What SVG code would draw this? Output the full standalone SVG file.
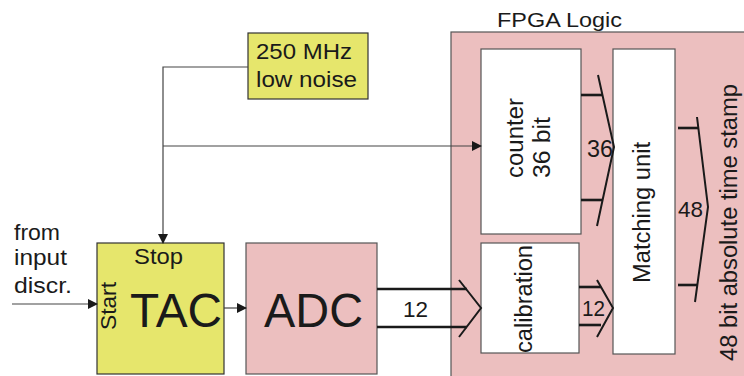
<svg xmlns="http://www.w3.org/2000/svg" width="744" height="376" viewBox="0 0 744 376">
<defs>
<marker id="ah" markerWidth="10" markerHeight="10" refX="9" refY="5" orient="auto" markerUnits="userSpaceOnUse">
<path d="M0,0 L10,5 L0,10 Z" fill="#1a1a1a"/>
</marker>
<style>
text{font-family:"Liberation Sans",Arial,sans-serif;fill:#1a1a1a}
.pink{fill:#ecbfbf;stroke:#555;stroke-width:1.2}
.yel{fill:#e6e66c;stroke:#333;stroke-width:1.2}
.wht{fill:#fff;stroke:#555;stroke-width:1.2}
.ln{stroke:#444;stroke-width:1.2;fill:none}
.bus{stroke:#1a1a1a;stroke-width:2.6;fill:none}
.bc{stroke:#1a1a1a;stroke-width:2;fill:none}
.f22{font-size:22px}
.f23{font-size:23px}
.mid{text-anchor:middle}
</style>
</defs>
<rect width="744" height="376" fill="#fff"/>

<g id="fpga">
<rect class="pink" x="451" y="32" width="300" height="350"/>
<text x="497" y="27" font-size="20" textLength="125" lengthAdjust="spacingAndGlyphs">FPGA Logic</text>
</g>

<g id="clock">
<rect class="yel" x="248" y="33" width="120" height="66"/>
<text class="f22" x="256" y="59" textLength="96" lengthAdjust="spacingAndGlyphs">250 MHz</text>
<text class="f22" x="256" y="87" textLength="101" lengthAdjust="spacingAndGlyphs">low noise</text>
</g>

<g id="input-label">
<text class="f22" x="14" y="240" textLength="46" lengthAdjust="spacingAndGlyphs">from</text>
<text class="f22" x="14" y="265" textLength="53" lengthAdjust="spacingAndGlyphs">input</text>
<text class="f22" x="14" y="293" textLength="58" lengthAdjust="spacingAndGlyphs">discr.</text>
</g>

<g id="tac">
<rect class="yel" x="97" y="243" width="127" height="131"/>
<text class="f22" x="134" y="264" textLength="49" lengthAdjust="spacingAndGlyphs">Stop</text>
<text class="f22" transform="translate(116,330) rotate(-90)" textLength="48" lengthAdjust="spacingAndGlyphs">Start</text>
<text x="130" y="327" font-size="48" textLength="92" lengthAdjust="spacingAndGlyphs">TAC</text>
</g>

<g id="adc">
<rect class="pink" x="246" y="243" width="131" height="131"/>
<text x="264" y="327" font-size="48" textLength="99" lengthAdjust="spacingAndGlyphs">ADC</text>
</g>

<g id="counter">
<rect class="wht" x="481" y="49" width="100" height="185"/>
<text class="f23" transform="translate(523,178) rotate(-90)" textLength="80" lengthAdjust="spacingAndGlyphs">counter</text>
<text class="f23" transform="translate(550,178) rotate(-90)" textLength="61" lengthAdjust="spacingAndGlyphs">36 bit</text>
</g>

<g id="calibration">
<rect class="wht" x="481" y="243" width="98" height="110"/>
<text class="f23" transform="translate(532,353) rotate(-90)" textLength="108" lengthAdjust="spacingAndGlyphs">calibration</text>
</g>

<g id="matching">
<rect class="wht" x="613" y="49" width="62" height="305"/>
<text class="f23" transform="translate(650,283) rotate(-90)" textLength="141" lengthAdjust="spacingAndGlyphs">Matching unit</text>
</g>

<g id="timestamp-label">
<text class="f23" transform="translate(737,361) rotate(-90)" textLength="277" lengthAdjust="spacingAndGlyphs">48 bit absolute time stamp</text>
</g>

<g id="connectors">
<polyline class="ln" points="248,67 163,67 163,243" marker-end="url(#ah)"/>
<line class="ln" x1="163" y1="146" x2="481" y2="146" marker-end="url(#ah)"/>
<line class="ln" x1="12" y1="304" x2="97" y2="304" marker-end="url(#ah)"/>
<line class="ln" x1="224" y1="308" x2="246" y2="308" marker-end="url(#ah)"/>

<line class="bus" x1="377" y1="289" x2="467" y2="289"/>
<line class="bus" x1="377" y1="327" x2="467" y2="327"/>
<polyline class="bc" points="459,280 481,308 459,337"/>
<text class="f22" x="403" y="317" textLength="25" lengthAdjust="spacingAndGlyphs">12</text>

<line class="bus" x1="579" y1="287" x2="601" y2="287"/>
<line class="bus" x1="579" y1="325" x2="601" y2="325"/>
<polyline class="bc" points="597,280 613,308 597,337"/>
<text class="f22" x="582" y="316" textLength="23" lengthAdjust="spacingAndGlyphs">12</text>

<line class="bus" x1="581" y1="95" x2="603" y2="95"/>
<line class="bus" x1="581" y1="200" x2="603" y2="200"/>
<polyline class="bc" points="598,75 614,147 597,226"/>
<text class="f23" x="587" y="157" textLength="26" lengthAdjust="spacingAndGlyphs">36</text>

<line class="bus" x1="678" y1="128" x2="698" y2="128"/>
<line class="bus" x1="678" y1="285" x2="698" y2="285"/>
<polyline class="bc" points="697,117 708,207 695,302"/>
<text class="f22" x="678" y="217" textLength="25" lengthAdjust="spacingAndGlyphs">48</text>
</g>
</svg>
